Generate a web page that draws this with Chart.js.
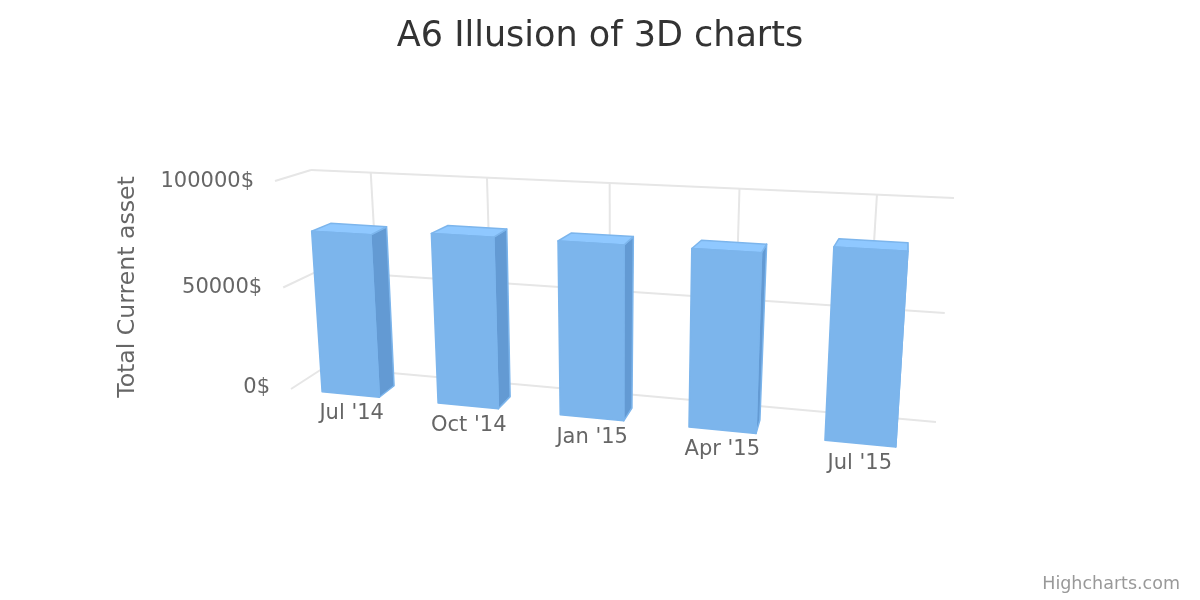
<!DOCTYPE html>
<html><head><meta charset="utf-8">
<style>html,body{margin:0;padding:0;background:#fff}#w{width:1200px;height:600px;position:relative}</style>
<script src="https://cdn.jsdelivr.net/npm/chart.js@4"></script>
</head><body><div id="w"><canvas id="c" width="1200" height="600"></canvas></div>
<script>
const categories = ["Jul '14", "Oct '14", "Jan '15", "Apr '15", "Jul '15"];
const totalCurrentAsset = [77500, 79800, 79800, 80000, 84200];
const yMax = 100000;
const yStep = 50000;

const FONT = '"DejaVu Sans", sans-serif';
const COL = {front:'#7cb5ec', top:'#8fc8ff', side:'#639ad3', edge:'#7cb5ec', grid:'#e6e6e6'};
// View planes of the 3D box: [top-left, top-right, bottom-right, bottom-left]
const PLANES = {
  wallFront: [[275,181],[948,216],[930,452],[291,389]],
  wallBack:  [[311,170],[954,198],[936,422],[325,367]],
  barFront:  [[279.2,181],[948.5,214.5],[932,450.5],[294,389]],
  barBack:   [[298,174],[948.5,207],[930.5,436],[311.5,378]]
};
const GRID_INSET = 0.986;
const BACK_WIDTH = 0.965;
function quad(q){
  const [[x0,y0],[x1,y1],[x2,y2],[x3,y3]] = q;
  const dx1=x1-x2, dx2=x3-x2, sx=x0-x1+x2-x3, dy1=y1-y2, dy2=y3-y2, sy=y0-y1+y2-y3;
  const den=dx1*dy2-dx2*dy1, g=(sx*dy2-dx2*sy)/den, h=(dx1*sy-sx*dy1)/den;
  const a=x1-x0+g*x1, b=x3-x0+h*x3, d=y1-y0+g*y1, e=y3-y0+h*y3;
  return (s,t)=>{const w=g*s+h*t+1; return [(a*s+b*t+x0)/w,(d*s+e*t+y0)/w];};
}
const proj = Object.fromEntries(Object.entries(PLANES).map(([k,v])=>[k,quad(v)]));

const box3d = {
  id:'box3d',
  afterDatasetsDraw(chart){
    const {ctx, chartArea:A, scales:{x:X,y:Y}} = chart;
    const S = px => (px-A.left)/(A.right-A.left), T = py => (py-A.top)/(A.bottom-A.top);
    const poly=(pts,fill,stroke)=>{ctx.beginPath();pts.forEach((p,i)=>i?ctx.lineTo(p[0],p[1]):ctx.moveTo(p[0],p[1]));ctx.closePath();
      ctx.fillStyle=fill;ctx.fill();ctx.strokeStyle=stroke;ctx.lineWidth=1.5;ctx.lineJoin='round';ctx.stroke();};
    const line=(a,b)=>{ctx.beginPath();ctx.moveTo(a[0],a[1]);ctx.lineTo(b[0],b[1]);ctx.stroke();};
    ctx.save();
    // grid
    ctx.strokeStyle=COL.grid;ctx.lineWidth=2;
    Y.ticks.forEach(t=>{const v=T(Y.getPixelForValue(t.value));
      line(proj.wallFront(0,v),proj.wallBack(0,v)); line(proj.wallBack(0,v),proj.wallBack(1,v));});
    categories.forEach((c,i)=>{const s=0.5+(S(X.getPixelForTick(i))-0.5)*GRID_INSET;line(proj.wallBack(s,0),proj.wallBack(s,1));});
    // bars
    chart.getDatasetMeta(0).data.forEach(b=>{
      const p=b.getProps(['x','y','base','width'],true);
      const l=S(p.x-p.width/2), r=S(p.x+p.width/2), t=T(p.y), u=T(p.base);
      const bl=S(p.x-p.width/2*BACK_WIDTH), br=S(p.x+p.width/2*BACK_WIDTH);
      const F=proj.barFront, K=proj.barBack;
      poly([F(r,t),K(br,t),K(br,u),F(r,u)],COL.side,COL.edge);
      poly([F(l,t),K(bl,t),K(br,t),F(r,t)],COL.top,COL.edge);
      poly([F(l,t),F(r,t),F(r,u),F(l,u)],COL.front,COL.front);
    });
    // labels
    ctx.fillStyle='#666666';ctx.font='21px '+FONT;ctx.textBaseline='middle';
    ctx.textAlign='right';
    Y.ticks.forEach(t=>{const v=T(Y.getPixelForValue(t.value));const f=proj.wallFront(0,v);ctx.fillText(t.label,f[0]-21,f[1]+0.8-2.2*v);});
    ctx.textAlign='center';
    categories.forEach((c,i)=>{const s=S(X.getPixelForTick(i));const f=proj.barFront(s,1);ctx.fillText(c,f[0]+1.3-1.8*s,f[1]+19.5);});
    ctx.save();ctx.translate(128,287);ctx.rotate(-Math.PI/2);ctx.font='23.6px '+FONT;ctx.fillText('Total Current asset',0,0);ctx.restore();
    ctx.fillStyle='#999999';ctx.font='17.5px '+FONT;ctx.textAlign='right';ctx.fillText('Highcharts.com',1180,584);
    ctx.restore();
  }
};
new Chart(document.getElementById('c'),{
  type:'bar',
  data:{labels:categories,datasets:[{label:'Total Current asset',data:totalCurrentAsset,backgroundColor:'rgba(0,0,0,0)',borderWidth:0,barPercentage:0.5,categoryPercentage:1}]},
  plugins:[box3d],
  options:{responsive:false,animation:false,
    layout:{padding:{left:290,right:290,top:16,bottom:170}},
    plugins:{legend:{display:false},tooltip:{enabled:false},
      title:{display:true,text:'A6 Illusion of 3D charts',color:'#333333',font:{family:FONT,size:35,weight:'normal'},padding:{top:0,bottom:60}}},
    scales:{
      x:{display:false,grid:{display:false}},
      y:{display:false,min:0,max:yMax,grid:{display:false},ticks:{stepSize:yStep,callback:v=>v+'$'}}
    }}
});
</script></body></html>
